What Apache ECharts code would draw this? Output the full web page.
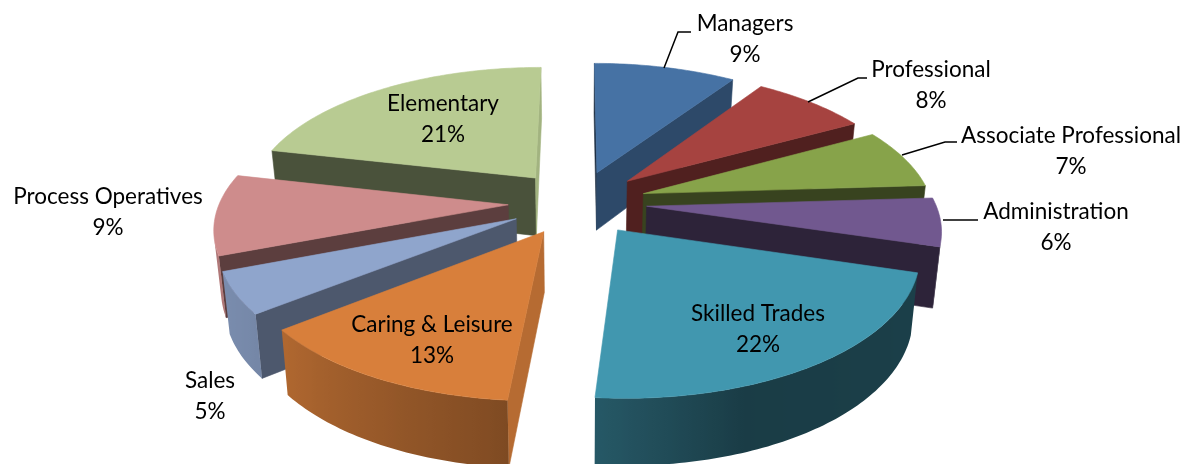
<!DOCTYPE html>
<html>
<head>
<meta charset="utf-8">
<style>
  html, body { margin: 0; padding: 0; background: #fff; }
  #main { width: 1184px; height: 464px; }
</style>
<script src="https://cdn.jsdelivr.net/npm/echarts@6/dist/echarts.min.js"></script>
</head>
<body>
<div id="main"></div>
<script>
// data, the labels show these rounded
const categories = ['Managers', 'Professional', 'Associate Professional', 'Administration',
  'Skilled Trades', 'Caring & Leisure', 'Sales', 'Process Operatives', 'Elementary']
const shares = [9.3, 7.6, 7, 5.6, 21.6, 12.9, 4.8, 9.4, 21.3]

// styles, one per category
const topColors = ['#4672a4', '#a64340', '#87a34a', '#71588f', '#4197af', '#d87f3b', '#8fa5cc', '#ce8c8c', '#b8cb92']

// label centres and leader lines, in page pixels
const labelCentres = [[745, 39], [931, 85], [1071, 151], [1056, 227], [758, 329], [432, 340], [210, 396], [108, 212], [443, 119]]
const leaders = [
  [[664, 68], [678, 32], [691, 32]],
  [[808, 102], [858, 78], [867, 78]],
  [[902, 155], [945, 142], [957, 142]],
  [[943, 220], [978, 220]],
  null, null, null, null, null
]

// the fake 3D camera
const cx = 577.5, cy = 202.5
const radius = 288.6, squash = 134
const persp = 0.15, explode = 0.24
const wallHeight = 59, converge = 0.02

function project(x, y, z) {
  const s = 1 / (1 + persp * y)
  return [
    cx + radius * x * s * (1 - converge * z),
    cy - squash * y * s + z * wallHeight * (1 - 0.12 * y)
  ]
}

// brightness of a wall by the compass direction it faces
const arcShade = [[0, 0.42], [108, 0.42], [160, 0.40], [187, 0.60], [234, 0.83], [252, 0.86], [285, 0.78], [360, 0.78]]
const sideShade = [[0, 0.88], [90, 0.88], [122, 0.65], [151, 0.48], [165, 0.42], [200, 0.40], [360, 0.40]]

function shadeAt(table, deg) {
  deg = (deg + 360) % 360
  for (let i = 1; i < table.length; i++) {
    if (deg <= table[i][0]) {
      return echarts.number.linearMap(deg, [table[i - 1][0], table[i][0]], [table[i - 1][1], table[i][1]])
    }
  }
  return table[table.length - 1][1]
}

function darken(hex, f) {
  const n = parseInt(hex.slice(1), 16)
  const c = [n >> 16, (n >> 8) & 255, n & 255].map(v => Math.round(v * f))
  return `rgb(${c.join(',')})`
}

function area(pts) {
  let a = 0
  pts.forEach((p, i) => {
    const q = pts[(i + 1) % pts.length]
    a += p[0] * q[1] - q[0] * p[1]
  })
  return a / 2
}

// slice angles come from the shares
const total = shares.reduce((a, b) => a + b, 0)
let running = 0
const slices = shares.map((v, i) => {
  const from = echarts.number.linearMap(running, [0, total], [0, 360])
  running += v
  const to = echarts.number.linearMap(running, [0, total], [0, 360])
  const mid = (from + to) / 2 * Math.PI / 180
  return { i, from, to, ox: explode * Math.sin(mid), oy: explode * Math.cos(mid), mid }
})
// back slices get painted first
const drawOrder = slices.slice().sort((a, b) => (b.oy + 0.6 * Math.cos(b.mid)) - (a.oy + 0.6 * Math.cos(a.mid))).map(s => s.i)

function outer(sl, deg, z) {
  const t = deg * Math.PI / 180
  return project(sl.ox + Math.sin(t), sl.oy + Math.cos(t), z)
}

function poly(points, fill) {
  return {
    type: 'polygon',
    shape: { points },
    style: { fill, stroke: fill, lineWidth: typeof fill === 'string' ? 0.6 : 0 }
  }
}

// the curved outer wall, one polygon with a gradient running along it
function arcWall(sl) {
  const col = topColors[sl.i]
  const step = 1
  const topEdge = [], botEdge = [], stops = []
  for (let d = sl.from; d < sl.to; d += step) {
    const e = Math.min(d + step, sl.to)
    const quad = [outer(sl, d, 0), outer(sl, e, 0), outer(sl, e, 1), outer(sl, d, 1)]
    if (area(quad) >= 0) continue
    if (!topEdge.length) {
      topEdge.push(quad[0])
      botEdge.push(quad[3])
      stops.push([quad[0][0], d])
    }
    topEdge.push(quad[1])
    botEdge.push(quad[2])
    stops.push([quad[1][0], e])
  }
  if (!topEdge.length) return null
  const xs = stops.map(s => s[0])
  const x0 = Math.min.apply(null, xs), x1 = Math.max.apply(null, xs)
  const colorStops = stops
    .map(s => ({ offset: (s[0] - x0) / Math.max(x1 - x0, 1), color: darken(col, shadeAt(arcShade, s[1])) }))
    .sort((a, b) => a.offset - b.offset)
  const fill = { type: 'linear', x: x0, y: 0, x2: x1, y2: 0, global: true, colorStops }
  return poly(topEdge.concat(botEdge.reverse()), fill)
}

function renderSlice(params, api) {
  const sl = slices[api.value(0)]
  const col = topColors[sl.i]
  const apexTop = project(sl.ox, sl.oy, 0)
  const apexBot = project(sl.ox, sl.oy, 1)
  const children = []

  const startWall = [apexTop, outer(sl, sl.from, 0), outer(sl, sl.from, 1), apexBot]
  if (area(startWall) < 0) children.push(poly(startWall, darken(col, shadeAt(sideShade, sl.from - 90))))
  const endWall = [outer(sl, sl.to, 0), apexTop, apexBot, outer(sl, sl.to, 1)]
  if (area(endWall) < 0) children.push(poly(endWall, darken(col, shadeAt(sideShade, sl.to + 90))))

  const curved = arcWall(sl)
  if (curved) children.push(curved)

  const top = [apexTop]
  for (let d = sl.from; d < sl.to; d += 1) top.push(outer(sl, d, 0))
  top.push(outer(sl, sl.to, 0))
  children.push(poly(top, col))

  return { type: 'group', children }
}

function renderLabel(params, api) {
  const i = api.value(0)
  const children = [{
    type: 'text',
    style: {
      x: labelCentres[i][0],
      y: labelCentres[i][1],
      text: categories[i] + '\n' + Math.round(shares[i]) + '%',
      fill: '#000',
      font: '22.5px Lato',
      lineHeight: 31,
      align: 'center',
      verticalAlign: 'middle'
    }
  }]
  if (leaders[i]) {
    children.push({
      type: 'polyline',
      shape: { points: leaders[i] },
      style: { fill: 'none', stroke: '#000', lineWidth: 1.5 }
    })
  }
  return { type: 'group', children }
}

const myChart = echarts.init(document.getElementById('main'), null, { renderer: 'canvas' })

const option = {
  backgroundColor: '#fff',
  animation: false,
  series: [
    {
      type: 'custom',
      coordinateSystem: 'none',
      renderItem: renderSlice,
      silent: true,
      z: 1,
      data: drawOrder.map(i => [i])
    },
    {
      type: 'custom',
      coordinateSystem: 'none',
      renderItem: renderLabel,
      silent: true,
      z: 2,
      data: categories.map((c, i) => [i])
    }
  ]
}

myChart.setOption(option)
</script>
</body>
</html>
